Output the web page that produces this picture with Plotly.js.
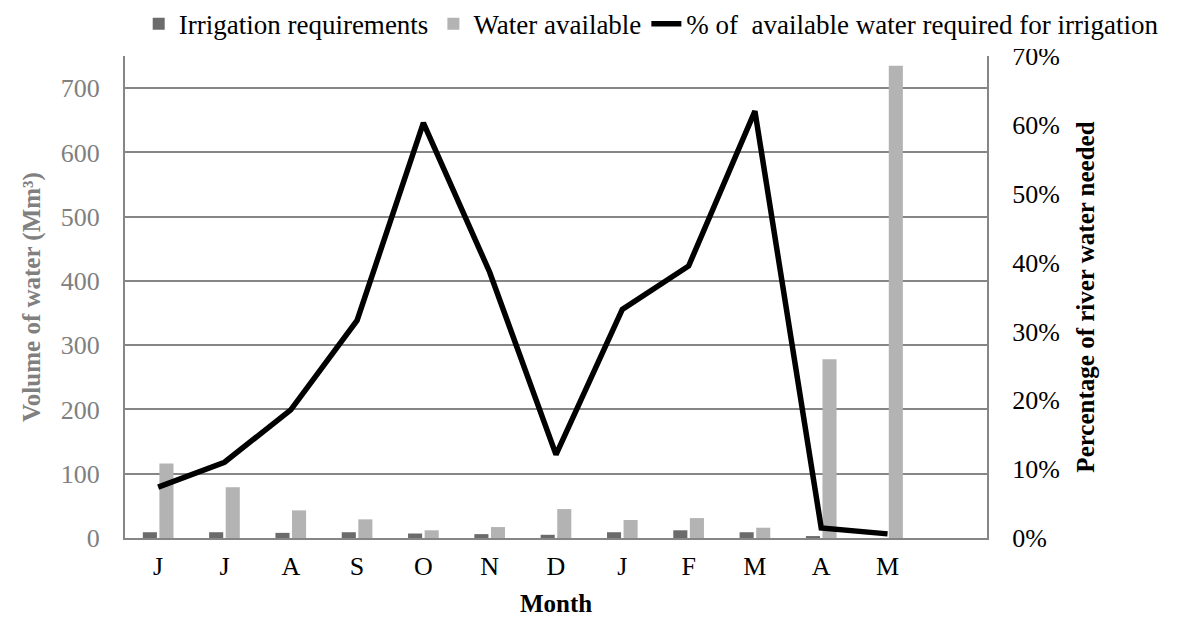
<!DOCTYPE html>
<html>
<head>
<meta charset="utf-8">
<script src="https://cdn.plot.ly/plotly-3.0.1.min.js"></script>
<style>
html,body{margin:0;padding:0;background:#fff;}
#chart{width:1177px;height:617px;}
</style>
</head>
<body>
<div id="chart"></div>
<script>
const months = ["J","J","A","S","O","N","D","J","F","M","A","M"];
const irrigation = [9, 9, 8, 9, 7, 6, 5, 9, 12, 9, 3, 0];
const waterAvailable = [116, 79, 43, 29, 12, 17, 45, 28, 31, 16, 278, 735];
const pctRequired = [0.074, 0.110, 0.186, 0.316, 0.603, 0.386, 0.121, 0.332, 0.395, 0.620, 0.0145, 0.006];

const idx = months.map((_, i) => i);
const FONT = "Liberation Serif, Times New Roman, serif";

const traces = [
  {type: "bar", name: "Irrigation requirements", x: idx, y: irrigation,
   marker: {color: "#6b6b6b"}, yaxis: "y"},
  {type: "bar", name: "Water available", x: idx, y: waterAvailable,
   marker: {color: "#b3b3b3"}, yaxis: "y"},
  {type: "scatter", mode: "lines", name: "% of  available water required for irrigation",
   x: idx, y: pctRequired, yaxis: "y2",
   line: {color: "#000000", width: 5.5}}
];

const layout = {
  width: 1177, height: 617,
  margin: {l: 125, r: 190, t: 56, b: 79, autoexpand: false},
  paper_bgcolor: "#fff", plot_bgcolor: "#fff",
  font: {family: FONT, size: 26, color: "#000"},
  barmode: "group", bargap: 0.5, bargroupgap: 0.15,
  showlegend: true,
  legend: {orientation: "h", x: 1.205, xanchor: "right",
           y: 1.015, yanchor: "bottom",
           font: {family: FONT, size: 27, color: "#000"},
           traceorder: "normal", itemwidth: 30, tracegroupgap: 0},
  xaxis: {range: [-0.5, 12.5], tickmode: "array", tickvals: idx, ticktext: months,
          showgrid: false, zeroline: false, showline: true, linecolor: "#868686", linewidth: 2,
          ticks: "", ticklabelstandoff: 4, tickfont: {family: FONT, size: 26, color: "#000"},
          title: {text: "<b>Month</b>", font: {family: FONT, size: 25, color: "#000"}, standoff: 14}},
  yaxis: {range: [0, 750], dtick: 100, tick0: 0, showgrid: true, gridcolor: "#868686", gridwidth: 2,
          zeroline: false, showline: true, linecolor: "#868686", linewidth: 2, ticks: "",
          ticklabelstandoff: 18,
          tickfont: {family: FONT, size: 26, color: "#808080"},
          title: {text: "<b>Volume of water (Mm³)</b>", font: {family: FONT, size: 25, color: "#808080"}, standoff: 13}},
  yaxis2: {range: [0, 0.7], dtick: 0.1, tick0: 0, tickformat: ".0%", overlaying: "y", side: "right",
           showgrid: false, zeroline: false, showline: true, linecolor: "#868686", linewidth: 2, ticks: "",
           ticklabelstandoff: 18,
           tickfont: {family: FONT, size: 26, color: "#000"},
           title: {text: "<b>Percentage of river water needed</b>", font: {family: FONT, size: 25, color: "#000"}, standoff: 18}}
};

Plotly.newPlot("chart", traces, layout, {displayModeBar: false, staticPlot: true});
</script>
</body>
</html>
